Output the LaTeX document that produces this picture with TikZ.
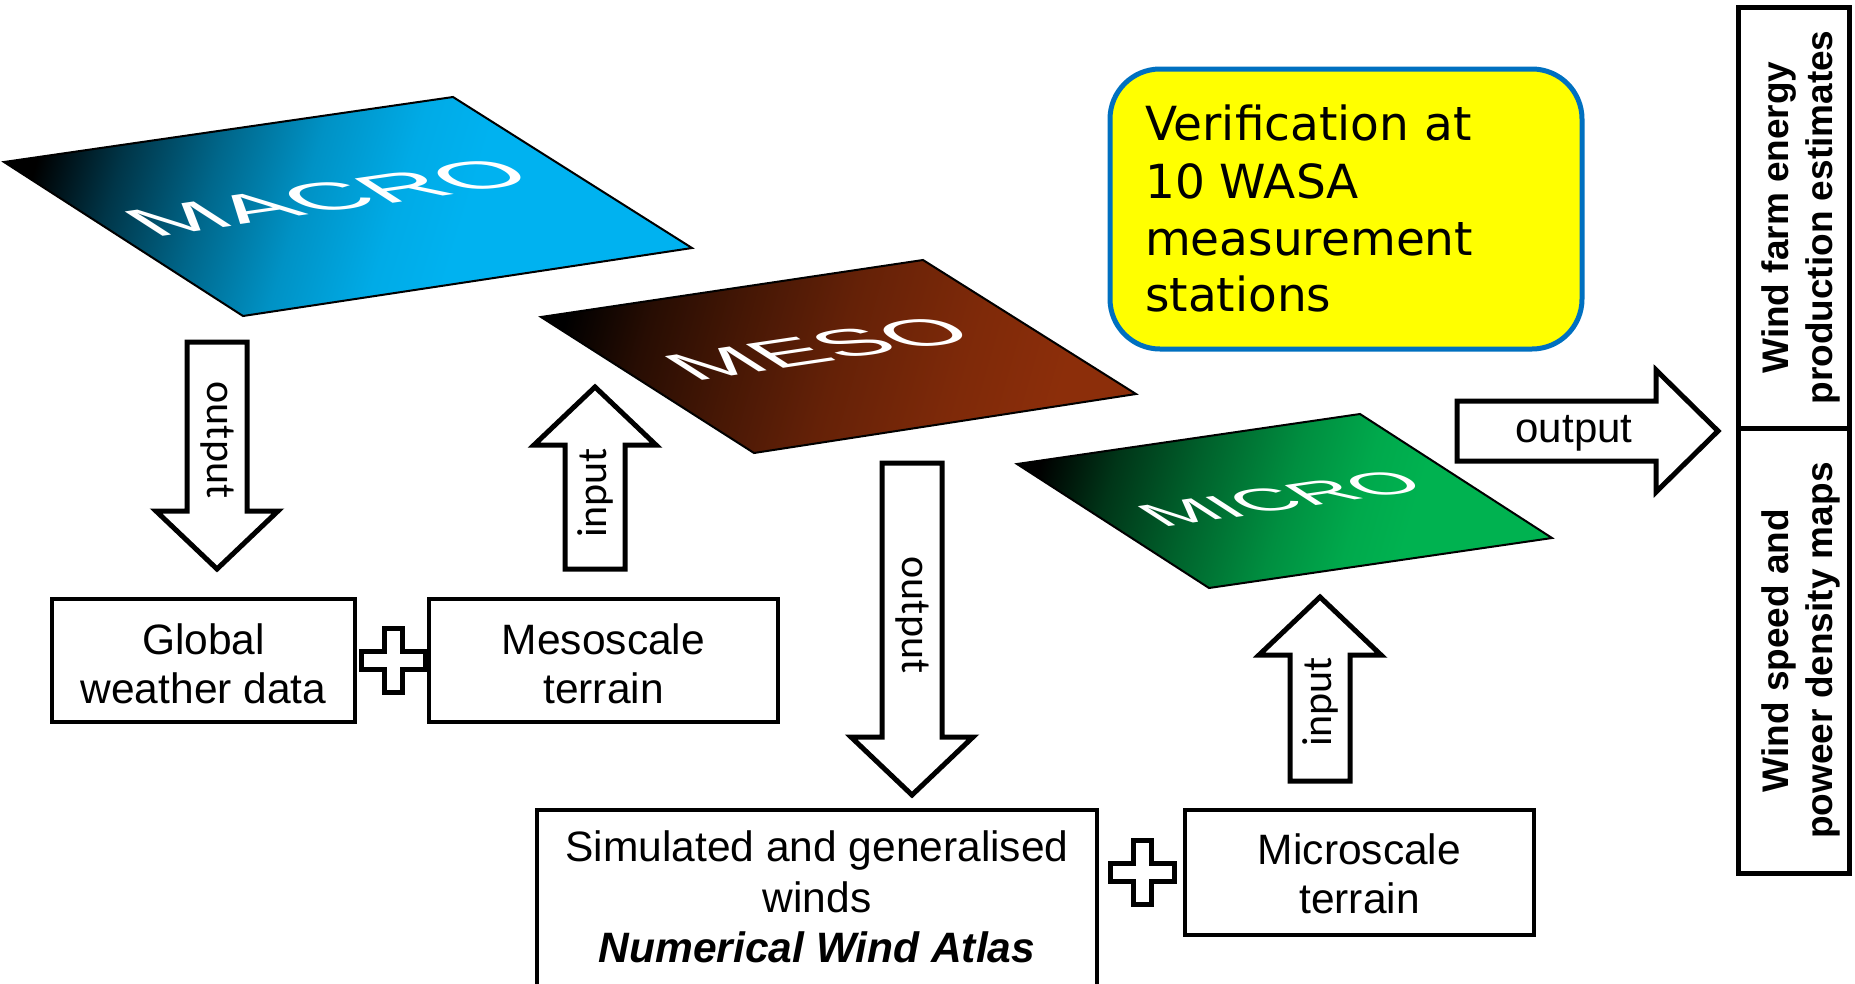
\documentclass[tikz,border=0pt]{standalone}
\usepackage{fontspec}
\setmainfont{Liberation Sans}
\newfontfamily\arialfont{Liberation Sans}
\newfontfamily\calibrifont{Carlito}
\newfontfamily\verdanafont{DejaVu Sans}

\definecolor{macroblue}{RGB}{0,178,240}
\definecolor{mesobrown}{RGB}{140,46,10}
\definecolor{microgreen}{RGB}{0,178,80}
\definecolor{noteyellow}{RGB}{255,255,0}
\definecolor{noteblue}{RGB}{0,112,192}

% fades from black into the colour of each scale
\pgfdeclarehorizontalshading{macroshade}{100bp}{color(0bp)=(black); color(23bp)=(black); color(30bp)=(macroblue!30!black); color(38bp)=(macroblue!58!black); color(46bp)=(macroblue!82!black); color(54bp)=(macroblue!96!black); color(60bp)=(macroblue); color(100bp)=(macroblue)}
\pgfdeclarehorizontalshading{mesoshade}{100bp}{color(0bp)=(black); color(23bp)=(black); color(31bp)=(mesobrown!28!black); color(40bp)=(mesobrown!50!black); color(50bp)=(mesobrown!72!black); color(62bp)=(mesobrown!90!black); color(72bp)=(mesobrown); color(100bp)=(mesobrown)}
\pgfdeclarehorizontalshading{microshade}{100bp}{color(0bp)=(black); color(23bp)=(black); color(31bp)=(microgreen!30!black); color(40bp)=(microgreen!55!black); color(50bp)=(microgreen!80!black); color(58bp)=(microgreen!95!black); color(64bp)=(microgreen); color(100bp)=(microgreen)}

% hollow block arrow along a vertical axis: #1 axis x, #2 tail y, #3 tip y
\newcommand\vblockarrow[3]{%
  \pgfmathsetmacro\headbase{#3>#2 ? #3-58 : #3+58}%
  \draw[blockarrow] (#1-30,#2) -- (#1-30,\headbase) -- (#1-61,\headbase) -- (#1,#3)
    -- (#1+61,\headbase) -- (#1+30,\headbase) -- (#1+30,#2) -- cycle;}

% hollow plus sign centred at (#1,#2)
\newcommand\plussign[2]{%
  \draw[plusline] (#1-9,#2-32) -- (#1+9,#2-32) -- (#1+9,#2-9) -- (#1+32,#2-9)
    -- (#1+32,#2+9) -- (#1+9,#2+9) -- (#1+9,#2+32) -- (#1-9,#2+32) -- (#1-9,#2+9)
    -- (#1-32,#2+9) -- (#1-32,#2-9) -- (#1-9,#2-9) -- cycle;}

\begin{document}
\begin{tikzpicture}[x=1pt,y=-1pt,
  box/.style={draw=black,line width=3.5pt,fill=white,inner sep=0pt,outer sep=0pt},
  resultbox/.style={draw=black,line width=5pt,fill=white,inner sep=0pt,outer sep=0pt},
  notebox/.style={draw=noteblue,line width=5pt,fill=noteyellow,rounded corners=50pt,inner sep=0pt,outer sep=0pt},
  blockarrow/.style={draw=black,line width=5pt,fill=white,line join=miter},
  plusline/.style={draw=black,line width=5pt,fill=white,line join=miter},
  planeedge/.style={draw=black,line width=2pt,line join=miter},
  planelabel/.style={transform shape,anchor=base,text=white,inner sep=0pt},
  boxtext/.style={font=\arialfont\fontsize{42.5}{50}\selectfont,anchor=base,inner sep=0pt},
  resulttext/.style={font=\arialfont\bfseries\fontsize{37}{44}\selectfont,anchor=base,inner sep=0pt,rotate=90},
  notetext/.style={font=\verdanafont\fontsize{47}{58}\selectfont,anchor=base west,inner sep=0pt},
  arrowlabel/.style={font=\calibrifont\fontsize{42}{42}\selectfont,inner sep=0pt}]

\useasboundingbox[fill=white] (0,0) rectangle (1855,983);

% ---------- the three model planes ----------
\coordinate (maL) at (4,162);    \coordinate (maT) at (453,97);
\coordinate (maR) at (692,248);  \coordinate (maB) at (243,316);
\shadedraw[planeedge,shading=macroshade,shading angle=-17] (maL)--(maT)--(maR)--(maB)--cycle;
\begin{scope}[cm={1.4967,0.2167,-0.7967,0.5133,(maB)}]
  \node[planelabel,font=\arialfont\fontsize{69}{69}\selectfont] (macro) at (147pt,145.5pt) {MACRO};
\end{scope}

\coordinate (meL) at (541,317);  \coordinate (meT) at (923,260);
\coordinate (meR) at (1136,394); \coordinate (meB) at (754,453);
\shadedraw[planeedge,shading=mesoshade,shading angle=-16] (meL)--(meT)--(meR)--(meB)--cycle;
\begin{scope}[cm={1.2733,0.19,-0.71,0.4533,(meB)}]
  \node[planelabel,font=\arialfont\fontsize{76}{76}\selectfont] (meso) at (145.5pt,144pt) {MESO};
\end{scope}

\coordinate (miL) at (1017,464); \coordinate (miT) at (1360,414);
\coordinate (miR) at (1552,538); \coordinate (miB) at (1209,588);
\shadedraw[planeedge,shading=microshade,shading angle=-16] (miL)--(miT)--(miR)--(miB)--cycle;
\begin{scope}[cm={1.1433,0.1667,-0.64,0.4133,(miB)}]
  \node[planelabel,font=\arialfont\fontsize{70}{70}\selectfont] (micro) at (150pt,132pt) {MICRO};
\end{scope}

% ---------- verification note ----------
\node[notebox,minimum width=472pt,minimum height=280pt,anchor=north west] (verify) at (1110,69) {};
\node[notetext] (v1) at (1145,140) {Verification at};
\node[notetext] (v2) at (1145,198) {10 WASA};
\node[notetext] (v3) at (1145,255.5) {measurement};
\node[notetext] (v4) at (1145,311) {stations};

% ---------- block arrows ----------
\vblockarrow{217}{342}{569}
\node[arrowlabel,rotate=-90] (outA) at (217,440) {output};
\vblockarrow{595}{569}{387}
\node[arrowlabel,rotate=90] (inA) at (595,493) {input};
\vblockarrow{912}{463}{795}
\node[arrowlabel,rotate=-90] (outB) at (912,615) {output};
\vblockarrow{1320}{781}{597}
\node[arrowlabel,rotate=90] (inB) at (1320,702) {input};
\draw[blockarrow] (1457,401) -- (1656,401) -- (1656,370) -- (1718,431)
  -- (1656,492) -- (1656,461) -- (1457,461) -- cycle;
\node[font=\arialfont\fontsize{42}{42}\selectfont,anchor=base,inner sep=0pt] (outC) at (1574,442) {output};

% ---------- input boxes ----------
\node[box,minimum width=303pt,minimum height=123pt] (global) at (203.5,660.5) {};
\node[boxtext] (g1) at (203.5,654) {Global};
\node[boxtext] (g2) at (203.5,703) {weather data};

\node[box,minimum width=349pt,minimum height=123pt] (mesoterrain) at (603.5,660.5) {};
\node[boxtext] (m1) at (603.5,654) {Mesoscale};
\node[boxtext] (m2) at (603.5,703) {terrain};

\plussign{393}{660}

\node[box,minimum width=560pt,minimum height=190pt,anchor=north west] (atlas) at (537,810) {};
\node[boxtext] (a1) at (817,861) {Simulated and generalised};
\node[boxtext] (a2) at (817,912) {winds};
\node[boxtext,font=\arialfont\bfseries\itshape\fontsize{42.5}{50}\selectfont] (a3) at (817,962) {Numerical Wind Atlas};

\node[box,minimum width=349pt,minimum height=125pt] (microterrain) at (1359.5,872.5) {};
\node[boxtext] (t1) at (1359.5,864) {Microscale};
\node[boxtext] (t2) at (1359.5,913) {terrain};

\plussign{1142}{872}

% ---------- results column ----------
\node[resultbox,minimum width=111pt,minimum height=421pt,anchor=north west] (estimates) at (1738,7) {};
\node[resultbox,minimum width=111pt,minimum height=445pt,anchor=north west] (maps) at (1738,428) {};
\node[resulttext] (r1) at (1788,217.5) {Wind farm energy};
\node[resulttext] (r2) at (1832,217.5) {production estimates};
\node[resulttext] (r3) at (1788,650.5) {Wind speed and};
\node[resulttext] (r4) at (1832,650.5) {poweer density maps};

\end{tikzpicture}
\end{document}
